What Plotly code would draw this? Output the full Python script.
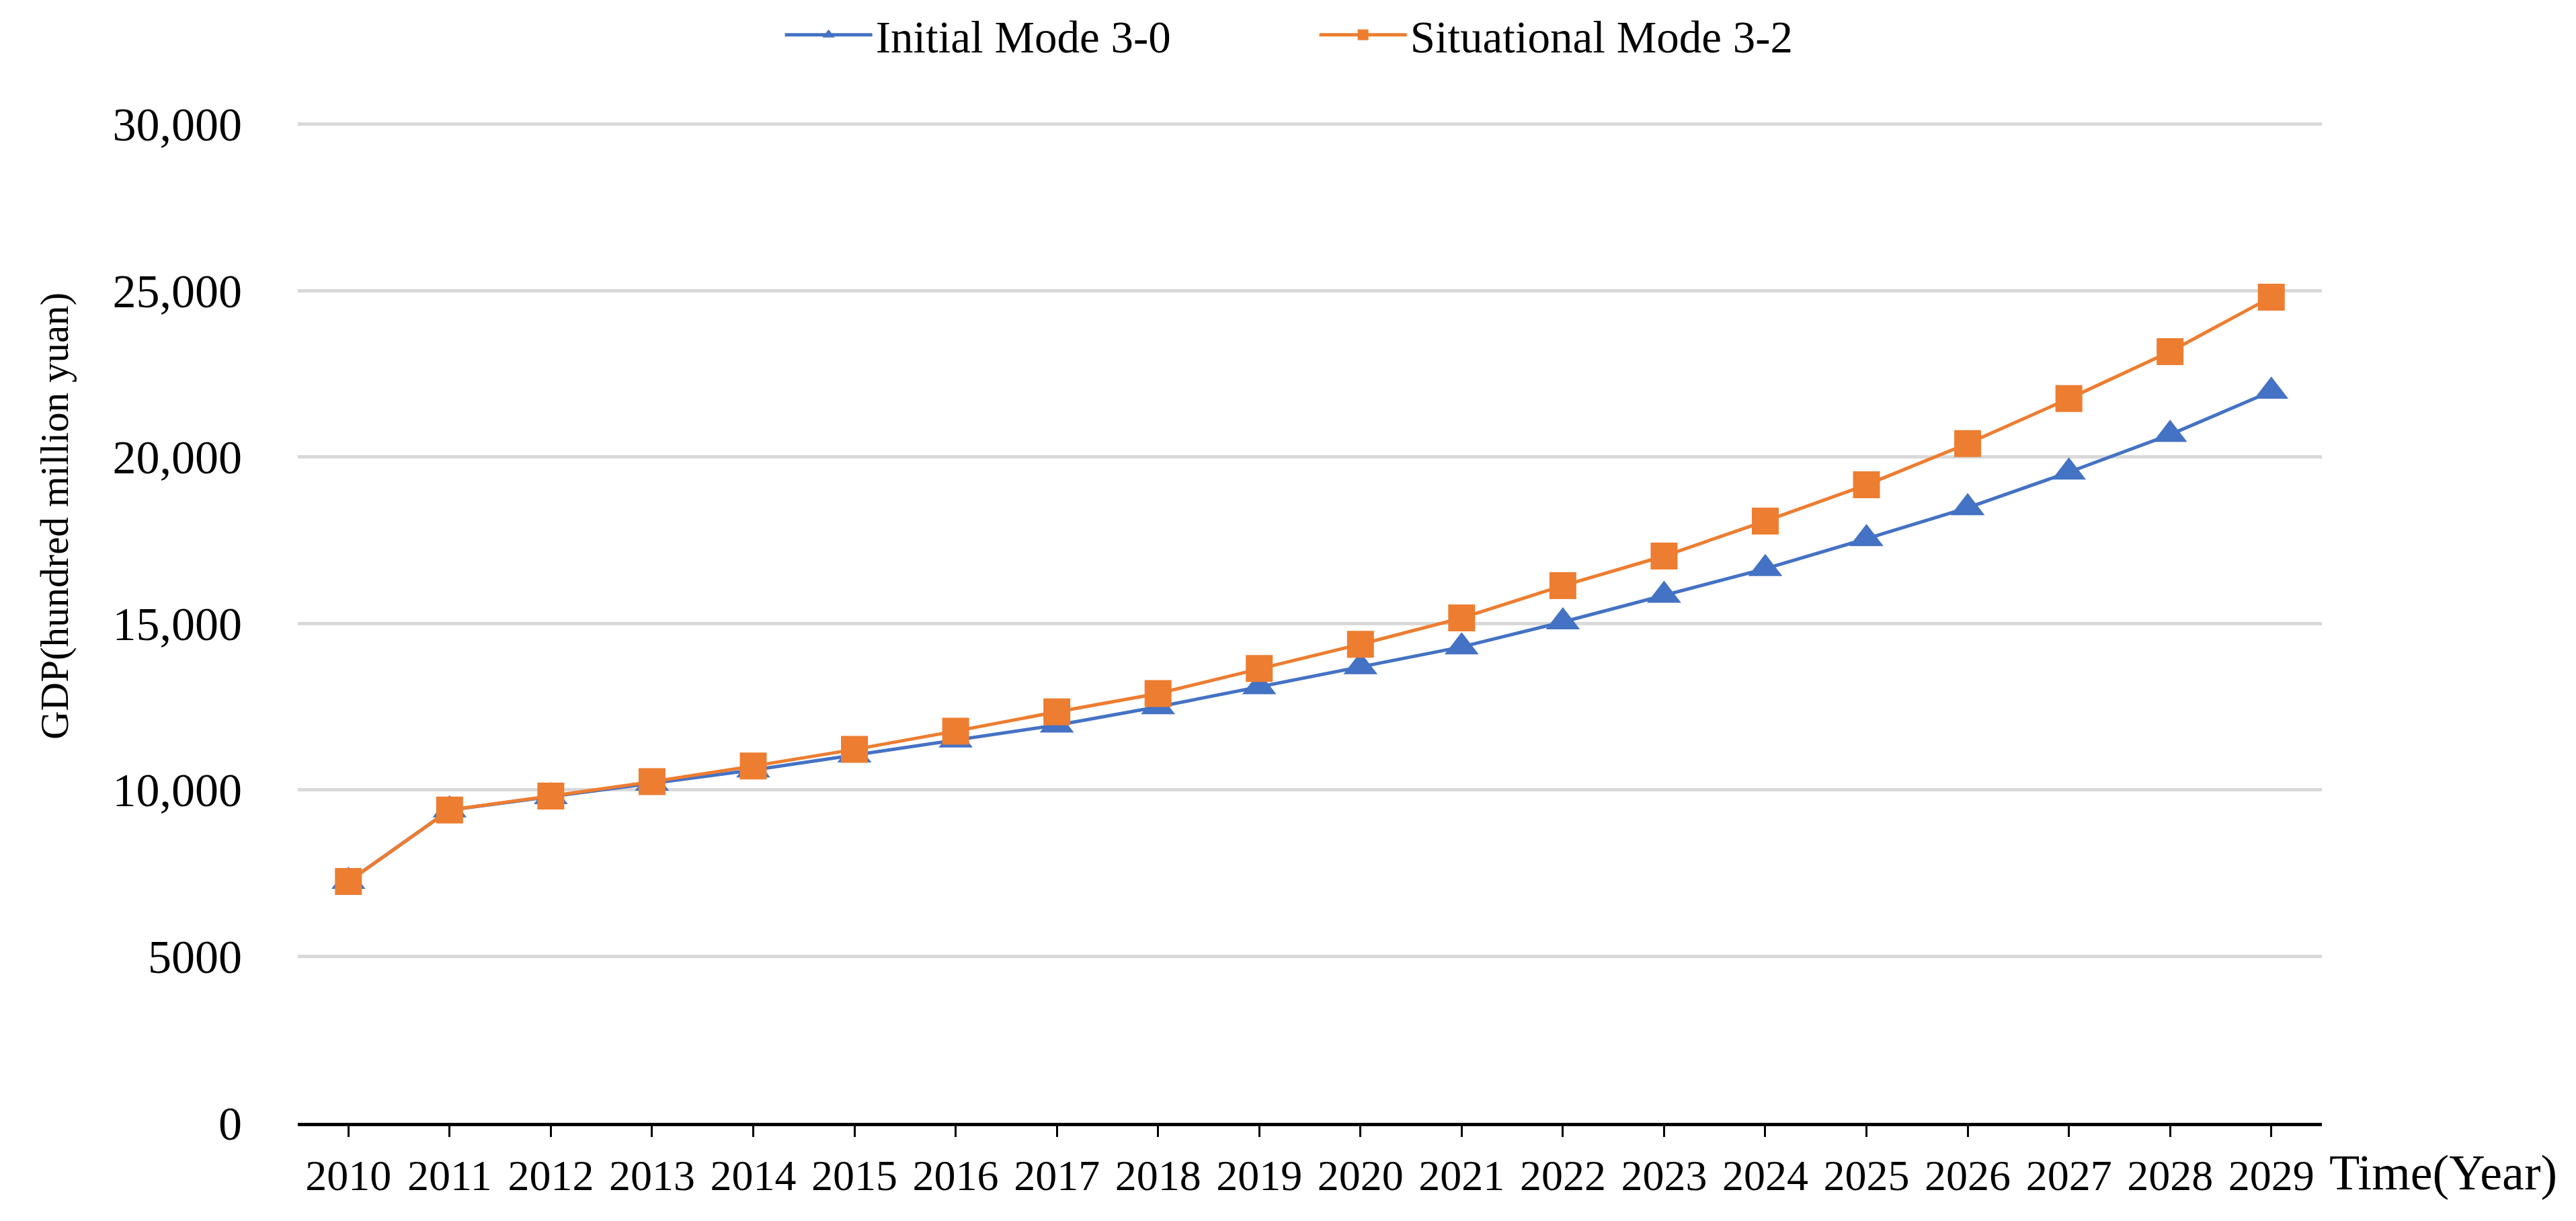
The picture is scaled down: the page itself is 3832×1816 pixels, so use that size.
import plotly.graph_objects as go

years = [str(y) for y in range(2010, 2030)]
initial_mode = [7250, 9400, 9800, 10200, 10600, 11050, 11500, 11950, 12500, 13100,
                13700, 14300, 15050, 15850, 16650, 17550, 18480, 19550, 20680, 21980]
situational_mode = [7250, 9400, 9820, 10250, 10720, 11220, 11770, 12350, 12900, 13650,
                    14380, 15170, 16140, 17030, 18080, 19170, 20410, 21760, 23170, 24810]
y_tickvals = [0, 5000, 10000, 15000, 20000, 25000, 30000]
y_ticktext = ["0", "5000", "10,000", "15,000", "20,000", "25,000", "30,000"]

FONT = "Liberation Serif, Times New Roman, serif"

fig = go.Figure()
fig.add_trace(go.Scatter(
    x=years, y=initial_mode, name="Initial Mode 3-0", mode="lines+markers",
    line=dict(color="#4472C4", width=5),
    marker=dict(symbol="triangle-up", size=44, color="#4472C4"),
))
fig.add_trace(go.Scatter(
    x=years, y=situational_mode, name="Situational Mode 3-2", mode="lines+markers",
    line=dict(color="#ED7D31", width=5),
    marker=dict(symbol="square", size=40, color="#ED7D31"),
))

fig.update_layout(
    width=3832, height=1816,
    margin=dict(l=435, r=386, t=175, b=154, autoexpand=False),
    paper_bgcolor="white", plot_bgcolor="white",
    font=dict(family=FONT, size=64, color="black"),
    showlegend=True,
    legend=dict(orientation="h", x=0.239, xanchor="left", y=1.088, yanchor="middle",
                font=dict(family=FONT, size=67, color="black"),
                itemwidth=130, entrywidth=650, entrywidthmode="pixels",
                bgcolor="rgba(0,0,0,0)"),
    xaxis=dict(
        type="category", range=[-0.5, 19.5],
        showline=True, linecolor="black", linewidth=5,
        ticks="outside", ticklen=16, tickwidth=3, tickcolor="black",
        showgrid=False, tickfont=dict(family=FONT, size=64, color="black"),
        ticklabelstandoff=2,
    ),
    yaxis=dict(
        range=[0, 30040], tickvals=y_tickvals, ticktext=y_ticktext,
        showgrid=True, gridcolor="#D9D9D9", gridwidth=5,
        showline=False, zeroline=False, ticks="",
        tickfont=dict(family=FONT, size=70, color="black"),
        ticklabelstandoff=82,
    ),
    annotations=[
        dict(text="GDP(hundred million yuan)", textangle=-90, xref="paper", yref="paper",
             x=-0.12, y=0.607, xanchor="center", yanchor="middle", showarrow=False,
             font=dict(family=FONT, size=59, color="black")),
        dict(text="Time(Year)", xref="paper", yref="paper",
             x=1.003, y=-0.05, xanchor="left", yanchor="middle", showarrow=False,
             font=dict(family=FONT, size=74, color="black")),
    ],
)

fig.write_html("out.html")
